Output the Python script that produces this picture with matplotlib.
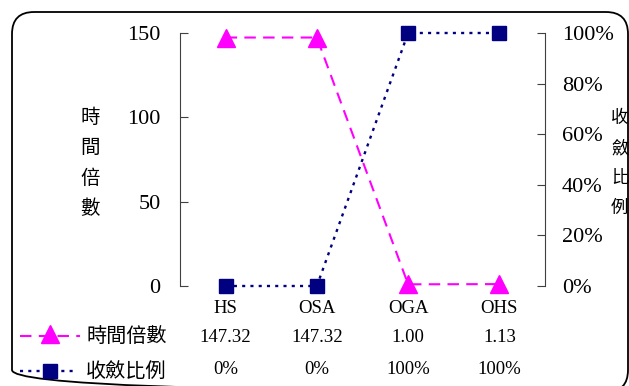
import matplotlib
matplotlib.use("Agg")
import matplotlib.pyplot as plt
import matplotlib.transforms as mtransforms
from matplotlib.patches import FancyBboxPatch
from matplotlib.lines import Line2D

categories = ["HS", "OSA", "OGA", "OHS"]
time_ratio = [147.32, 147.32, 1.00, 1.13]
conv_ratio = [0, 0, 100, 100]
time_labels = ["147.32", "147.32", "1.00", "1.13"]
conv_labels = ["0%", "0%", "100%", "100%"]
left_ticks = [0, 50, 100, 150]
right_ticks = [0, 20, 40, 60, 80, 100]

W, H = 629, 386
serif = ["Liberation Serif", "Noto Sans CJK TC"]
cjk = ["Noto Sans CJK TC", "DejaVu Sans"]
magenta = "#FF00FF"
navy = "#000080"

fig = plt.figure(figsize=(W / 100, H / 100), dpi=100)

# overlay in pixel coords for frame, legend keys
bg = fig.add_axes([0, 0, 1, 1])
bg.set_xlim(0, W)
bg.set_ylim(H, 0)
bg.axis("off")
bg.add_patch(FancyBboxPatch((12, 12), 616, 380,
                            boxstyle="round,pad=0,rounding_size=22",
                            fill=False, ec="black", lw=1.3))

x0, x1, y0, y1 = 180, 545, 286, 33
ax = fig.add_axes([x0 / W, 1 - y0 / H, (x1 - x0) / W, (y0 - y1) / H])
ax2 = ax.twinx()

xs = range(len(categories))
dash = (0, (5.5, 3.5))
dots = (0, (1.3, 2.2))
ax.plot(xs, time_ratio, color=magenta, ls=dash, lw=1.5,
        marker="^", ms=12.5, mfc=magenta, mec=magenta, zorder=3, clip_on=False)
ax2.plot(xs, conv_ratio, color=navy, ls=dots, lw=1.7,
         marker="s", ms=10.5, mfc=navy, mec=navy, zorder=3, clip_on=False)

ax.set_xlim(-0.5, len(categories) - 0.5)
ax.set_ylim(0, 150)
ax2.set_ylim(0, 100)
ax.set_yticks(left_ticks)
ax.set_yticklabels([str(t) for t in left_ticks], family=serif, fontsize=16)
ax2.set_yticks(right_ticks)
ax2.set_yticklabels([f"{t}%" for t in right_ticks], family=serif, fontsize=16)
ax.set_xticks(list(xs))
ax.set_xticklabels(categories, family=serif, fontsize=13.5)

for a in (ax, ax2):
    for s in ("top", "bottom"):
        a.spines[s].set_visible(False)
    a.patch.set_visible(False)
ax.spines["left"].set_color("#404040")
ax2.spines["right"].set_color("#404040")
ax.spines["right"].set_visible(False)
ax2.spines["left"].set_visible(False)
ax.tick_params(axis="y", direction="in", length=6, pad=14, color="#404040")
ax2.tick_params(axis="y", direction="in", length=6, pad=12, color="#404040")
ax.tick_params(axis="x", length=0, pad=10)

# axis titles, stacked characters
fig.text(90 / W, 1 - 163 / H, "\n".join("時間倍數"), family=cjk, fontsize=14,
         ha="center", va="center", linespacing=1.6)
fig.text(611 / W, 1 - 163 / H, "\n".join("收斂比例"), family=cjk, fontsize=12.5,
         ha="left", va="center", linespacing=1.85)

# data table
tr = mtransforms.blended_transform_factory(ax.transData, fig.transFigure)
for i in xs:
    ax.text(i, 1 - 337 / H, time_labels[i], transform=tr, family=serif,
            fontsize=13.5, ha="center", va="center", clip_on=False)
    ax.text(i, 1 - 370 / H, conv_labels[i], transform=tr, family=serif,
            fontsize=13.5, ha="center", va="center", clip_on=False)

# legend keys
bg.add_line(Line2D([20, 80], [336, 336], color=magenta, ls=dash, lw=1.5))
bg.plot([50], [334], marker="^", ms=12.5, color=magenta)
bg.add_line(Line2D([20, 76], [371, 371], color=navy, ls=dots, lw=1.7))
bg.plot([50], [371], marker="s", ms=10.5, color=navy)
bg.text(86, 336, "時間倍數", family=cjk, fontsize=14.5, va="center")
bg.text(86, 371, "收斂比例", family=cjk, fontsize=14.5, va="center")

fig.savefig("out.png", dpi=100)
